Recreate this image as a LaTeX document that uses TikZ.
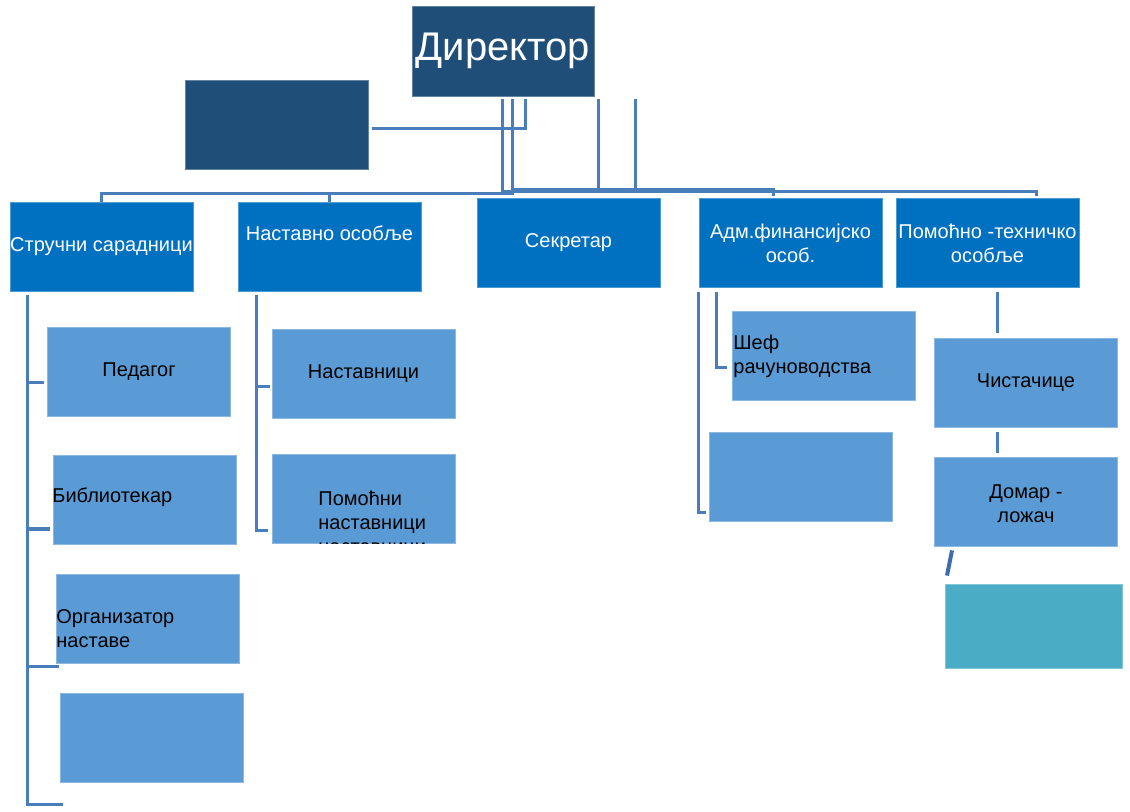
\documentclass[tikz,border=0pt]{standalone}
\usepackage{fontspec}
\setmainfont{Liberation Sans}

\definecolor{darkbox}{HTML}{1F4E79}
\definecolor{levelbox}{HTML}{0070C0}
\definecolor{lightbox}{HTML}{5B9BD5}
\definecolor{tealbox}{HTML}{4BACC6}
\definecolor{linkc}{HTML}{4A7EBB}
\definecolor{slantc}{HTML}{3E6CAE}

\tikzset{
	box/.style={fill=levelbox, draw=levelbox!70!white, line width=0.4pt, inner sep=0pt,
		minimum width=91.5pt, minimum height=44.5pt, text=white, align=center,
		font=\fontsize{10}{12}\selectfont},
	topbox/.style={box, fill=darkbox, draw=darkbox!70!white},
	subbox/.style={box, fill=lightbox, draw=lightbox!70!white, text=black},
	lbl/.style={inner sep=0pt, align=left, font=\fontsize{10}{12}\selectfont},
	link/.style={draw=linkc, line width=1.5pt},
}

\begin{document}
\begin{tikzpicture}[x=0.5pt,y=-0.5pt]
	\useasboundingbox (0,0) rectangle (1130,812);

	% upper levels
	\node[topbox, minimum width=91pt, minimum height=45pt, font=\fontsize{20}{24}\selectfont] (dir) at (503,51) {Директор};
	\node[topbox] (dark) at (276.5,124.5) {};
	\node[box] (str) at (101.5,246.5) {Стручни сарадници};
	\node[box] (nast) at (329.5,246.5) {};
	\node[lbl, text=white] (nast-t) at (329.5,233) {Наставно особље};
	\node[box] (sekr) at (568.5,243) {Секретар};
	\node[box] (adm) at (790.5,243) {Адм.финансијско\\особ.};
	\node[box] (pom) at (987.5,243) {Помоћно -техничко\\особље};

	% lower levels
	\node[subbox] (ped) at (139,371.5) {Педагог};
	\node[subbox] (bib) at (144.5,499.5) {};
	\node[lbl] (bib-t) at (52,497) [anchor=west] {Библиотекар};
	\node[subbox] (org) at (148,618.5) {};
	\node[lbl] (org-t) at (56,628.5) [anchor=west] {Организатор\\наставе};
	\node[subbox] (e1) at (151.5,738) {};

	\node[subbox] (nav) at (363.5,373.5) {Наставници};
	\node[subbox] (pnav) at (363.5,498.5) {};
	\begin{scope}
		\clip (pnav.south west) rectangle (pnav.north east);
		\node[lbl] (pnav-t) at (318,524) [anchor=west] {Помоћни\\наставници\\наставници};
	\end{scope}

	\node[subbox] (sef) at (824,355.5) {};
	\node[lbl] (sef-t) at (733,356) [anchor=west] {Шеф\\рачуноводства};
	\node[subbox] (e2) at (801,476.5) {};

	\node[subbox] (cist) at (1026,382.5) {Чистачице};
	\node[subbox] (domar) at (1026,501.5) {};
	\node[lbl, align=center] (domar-t) at (1026,504) {Домар -\\ложач};
	\node[box, fill=tealbox, draw=tealbox!70!white, minimum width=88.5pt, minimum height=42pt] (teal) at (1033.5,626) {};

	% director links
	\draw[link] ([xshift=-0.5pt,yshift=-1.5pt]dir.south) |- ([xshift=24.25pt,yshift=3.5pt]pom.north) -- ([xshift=24.25pt,yshift=1pt]pom.north);
	\draw[link] ([xshift=4.5pt,yshift=-1.5pt]dir.south) |- ([xshift=-8.75pt,yshift=4.5pt]adm.north) -- ([xshift=-8.75pt,yshift=1pt]adm.north);
	\draw[link] ([xshift=4.5pt,yshift=-1.5pt]dir.south) |- ([yshift=4pt]str.north) -- (str.north);
	\draw[link] ([yshift=4pt]nast.north) -- (nast.north);
	\draw[link] ([xshift=11pt,yshift=-1.5pt]dir.south) |- ([xshift=2pt,yshift=-2.25pt]dark.east);
	\draw[link] ([xshift=47.5pt,yshift=-1.5pt]dir.south) -- ([xshift=14.75pt,yshift=3.5pt]sekr.north);
	\draw[link] ([xshift=66pt,yshift=-1.5pt]dir.south) |- ([xshift=14.75pt,yshift=3.5pt]sekr.north);

	% staff links
	\draw[link] ([xshift=-37.25pt,yshift=-2pt]str.south) coordinate (s0) |- ([xshift=1.5pt,yshift=-33pt]e1.west);
	\draw[link] ([xshift=-1.5pt,yshift=-5.75pt]ped.west) -| (s0);
	\draw[link] ([xshift=-1.5pt,yshift=-14.75pt]bib.west) -| (s0);
	\draw[link] ([xshift=1.5pt,yshift=-23.75pt]org.west) -| (s0);

	\draw[link] ([xshift=-36.75pt,yshift=-2pt]nast.south) coordinate (n0) |- ([xshift=-2pt,yshift=-15.75pt]pnav.west);
	\draw[link] ([xshift=-1pt,yshift=-6.75pt]nav.west) -| (n0);

	\draw[link] ([xshift=-46.25pt,yshift=-2pt]adm.south) |- ([xshift=-1.5pt,yshift=-18.25pt]e2.west);
	\draw[link] ([xshift=-37.25pt,yshift=-2pt]adm.south) |- ([xshift=-2.5pt,yshift=-6.25pt]sef.west);

	\draw[link] ([xshift=4.75pt,yshift=-2pt]pom.south) -- ([xshift=-14.5pt,yshift=2.5pt]cist.north);
	\draw[link] ([xshift=-14.5pt,yshift=-2.5pt]cist.south) -- ([xshift=-14.5pt,yshift=2pt]domar.north);
	\draw[draw=slantc, line width=2pt] ([xshift=-37pt,yshift=-2pt]domar.south) -- ([xshift=-43.25pt,yshift=4pt]teal.north);
\end{tikzpicture}
\end{document}
